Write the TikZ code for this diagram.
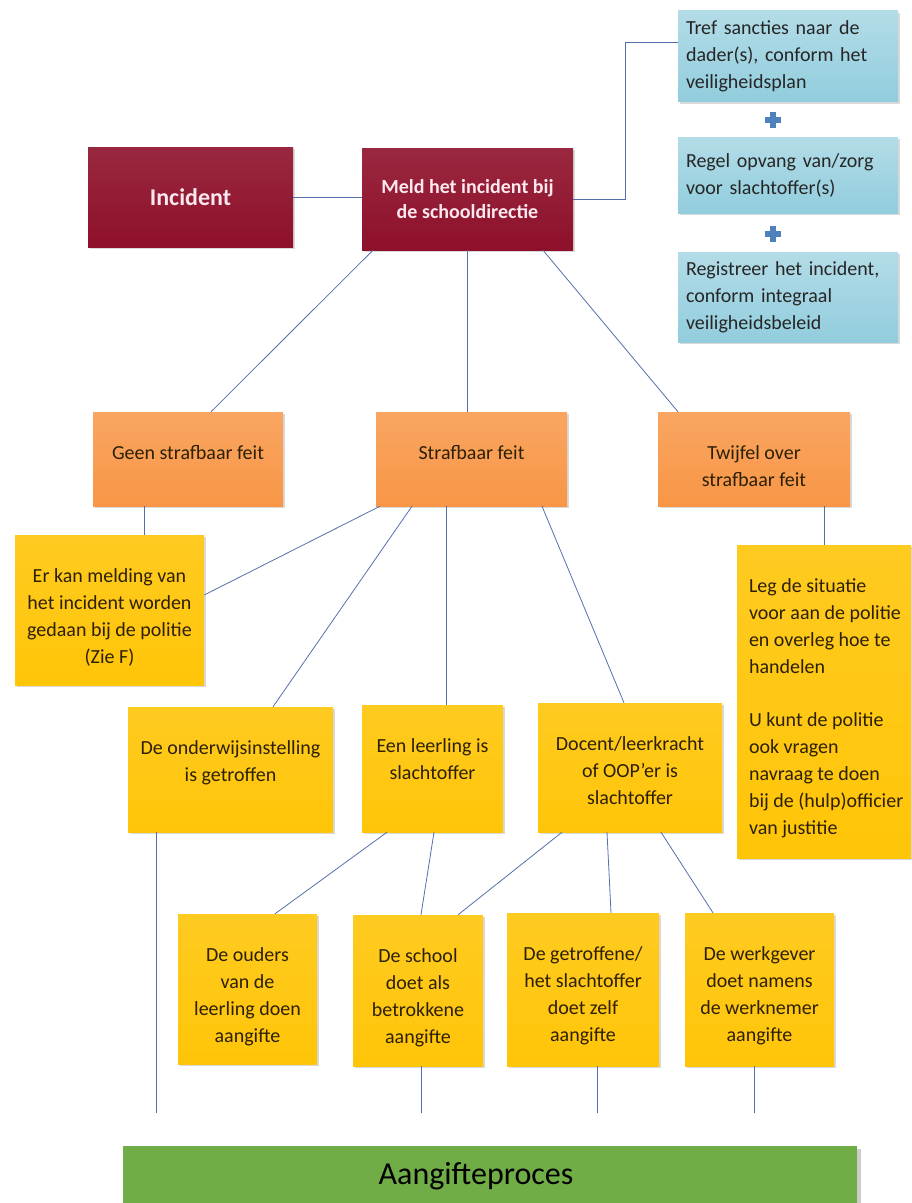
\documentclass[tikz,border=0pt]{standalone}
\usepackage{fontspec}
\setmainfont{Carlito}
\usetikzlibrary{shadows}

\definecolor{rood}{RGB}{142,16,42}
\definecolor{blauw}{RGB}{146,205,221}
\definecolor{oranje}{RGB}{248,150,70}
\definecolor{geel}{RGB}{255,197,8}
\definecolor{groen}{RGB}{112,173,71}
\definecolor{lijnkleur}{RGB}{84,112,170}
\definecolor{pluskleur}{RGB}{79,129,189}
\definecolor{donker}{RGB}{45,32,5}
\definecolor{roze}{RGB}{252,232,238}

\newcommand{\vak}[4][\centering]{\parbox[c][#3][t]{#2}{#1\rule{0pt}{47pt}#4}}

\begin{document}
\begin{tikzpicture}[x=1pt, y=-1pt,
  every node/.style={font=\fontsize{20}{27}\selectfont},
  vak/.style={inner sep=0pt, drop shadow={shadow xshift=2pt, shadow yshift=-2pt, opacity=0.3}},
  roodvak/.style={vak, top color=rood!90!white, bottom color=rood, text=roze},
  blauwvak/.style={vak, top color=blauw!70!white, bottom color=blauw, text=black!85},
  oranjevak/.style={vak, top color=oranje!85!white, bottom color=oranje, text=donker},
  geelvak/.style={vak, top color=geel!90!white, bottom color=geel, text=donker},
  groenvak/.style={inner sep=0pt, fill=groen, drop shadow={shadow xshift=4pt, shadow yshift=-3pt, opacity=0.4}},
  lijn/.style={draw=lijnkleur, line width=0.8pt}
]
  \useasboundingbox (0,0) rectangle (911,1203);

  \node[roodvak, minimum width=205pt, minimum height=100pt,
    font=\fontsize{24}{28}\selectfont\bfseries] (incident) at (190.5,197) {Incident};
  \node[roodvak, minimum width=211pt, minimum height=102pt, align=center,
    font=\fontsize{20}{25}\selectfont\bfseries] (meld) at (467.5,199) {Meld het incident bij\\de schooldirectie};

  \node[blauwvak, minimum width=220pt, minimum height=91pt, text width=204pt, align=left]
    (tref) at (788,56) {Tref sancties naar de\\dader(s), conform het\\veiligheidsplan};
  \node[blauwvak, minimum width=220pt, minimum height=76pt, text width=204pt, align=left]
    (regel) at (788,175) {Regel opvang van/zorg\\voor slachtoffer(s)};
  \node[blauwvak, minimum width=220pt, minimum height=90pt, text width=204pt, align=left]
    (registreer) at (788,297) {Registreer het incident,\\conform integraal\\veiligheidsbeleid};

  \fill[pluskleur] (765,117) rectangle (781,123);
  \fill[pluskleur] (770,112) rectangle (776,128);
  \fill[pluskleur] (765,231) rectangle (781,237);
  \fill[pluskleur] (770,226) rectangle (776,242);

  \node[oranjevak] (geen) at (188,459) {\vak{190pt}{94pt}{Geen strafbaar feit}};
  \node[oranjevak] (straf) at (471.5,459) {\vak{191pt}{94pt}{Strafbaar feit}};
  \node[oranjevak] (twijfel) at (754,459) {\vak{192pt}{94pt}{Twijfel over\\strafbaar feit}};

  \node[geelvak] (er) at (109.5,610) {\vak{189pt}{150pt}{Er kan melding van\\het incident worden\\gedaan bij de politie\\(Zie F)}};
  \node[geelvak, minimum width=174pt] (leg) at (824,701.5) {\vak[\raggedright\leftskip=8pt]{166pt}{313pt}{Leg de situatie\\voor aan de politie\\en overleg hoe te\\handelen\\[26pt]U kunt de politie\\ook vragen\\navraag te doen\\bij de (hulp)officier\\van justitie}};

  \node[geelvak] (onderwijs) at (230.5,769.5) {\vak{205pt}{125pt}{De onderwijsinstelling\\is getroffen}};
  \node[geelvak] (leerling) at (432.5,768.5) {\vak{141pt}{127pt}{Een leerling is\\slachtoffer}};
  \node[geelvak] (docent) at (630,767.5) {\vak{184pt}{129pt}{Docent/leerkracht\\of OOP’er is\\slachtoffer}};

  \node[geelvak] (ouders) at (247.5,989) {\vak{139pt}{150pt}{De ouders\\van de\\leerling doen\\aangifte}};
  \node[geelvak] (school) at (418,990.5) {\vak{130pt}{151pt}{De school\\doet als\\betrokkene\\aangifte}};
  \node[geelvak] (getroffene) at (583,989.5) {\vak{152pt}{153pt}{De getroffene/\\het slachtoffer\\doet zelf\\aangifte}};
  \node[geelvak] (werkgever) at (759.5,989.5) {\vak{149pt}{153pt}{De werkgever\\doet namens\\de werknemer\\aangifte}};

  \node[groenvak, minimum width=734pt, minimum height=60pt, text width=734pt, align=center,
    font=\fontsize{32}{36}\selectfont] (proces) at (490,1176) {Aangifteproces\rule{28pt}{0pt}};

  \coordinate (hoek) at (625,42);
  \coordinate (eind) at (0,1113);

  \draw[lijn] (incident.east) -- (incident.east -| meld.west);
  \draw[lijn] (meld.east) -| (hoek) -- (hoek -| tref.west);
  \draw[lijn] (373,0 |- meld.south) -- (211,0 |- geen.north);
  \draw[lijn] (meld.south) -- (meld.south |- straf.north);
  \draw[lijn] (543,0 |- meld.south) -- (678,0 |- twijfel.north);
  \draw[lijn] (144,0 |- geen.south) -- (144,0 |- er.north);
  \draw[lijn] (380,0 |- straf.south) -- (er.east |- 0,595);
  \draw[lijn] (412,0 |- straf.south) -- (273,0 |- onderwijs.north);
  \draw[lijn] (446,0 |- straf.south) -- (446,0 |- leerling.north);
  \draw[lijn] (542,0 |- straf.south) -- (624,0 |- docent.north);
  \draw[lijn] (824,0 |- twijfel.south) -- (824,0 |- leg.north);
  \draw[lijn] (387,0 |- leerling.south) -- (275,0 |- ouders.north);
  \draw[lijn] (434,0 |- leerling.south) -- (421,0 |- school.north);
  \draw[lijn] (562,0 |- docent.south) -- (458,0 |- school.north);
  \draw[lijn] (607,0 |- docent.south) -- (611,0 |- getroffene.north);
  \draw[lijn] (661,0 |- docent.south) -- (713,0 |- werkgever.north);
  \foreach \x/\n in {156/onderwijs, 421/school, 597/getroffene, 754/werkgever}
    \draw[lijn] (\x,0 |- \n.south) -- (\x,0 |- eind);
\end{tikzpicture}
\end{document}
